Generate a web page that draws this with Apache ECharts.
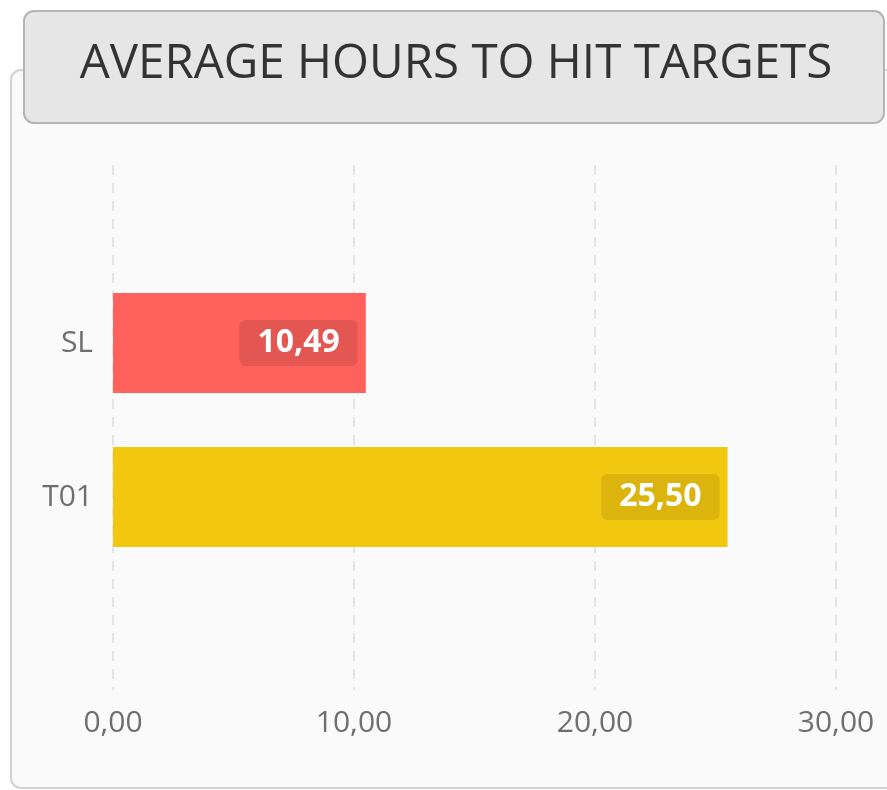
<!DOCTYPE html>
<html>
<head>
<meta charset="utf-8">
<script src="https://cdn.jsdelivr.net/npm/echarts@6/dist/echarts.min.js"></script>
<style>
  html, body { margin: 0; padding: 0; background: #ffffff; }
  #main { width: 887px; height: 790px; }
</style>
</head>
<body>
<div id="main"></div>
<script>
// chart data
var categories = ['SL', 'T01'];
var hours = [10.49, 25.50];
var barColors = ['#ff615c', '#f1c70f'];
var labelBoxColors = ['rgba(0,0,0,0.11)', 'rgba(0,0,0,0.09)'];
var axisTicks = [0, 10, 20, 30];

function fmt(v) {
  return Number(v).toFixed(2).replace('.', ',');
}

var myChart = echarts.init(document.getElementById('main'));

var barData = hours.map(function (v, i) {
  return {
    value: v,
    itemStyle: { color: barColors[i] },
    label: { backgroundColor: labelBoxColors[i] }
  };
});

var option = {
  animation: false,
  backgroundColor: '#ffffff',
  title: {
    text: 'AVERAGE HOURS TO HIT TARGETS',
    left: 451,
    top: 35,
    textAlign: 'center',
    textStyle: {
      fontFamily: 'Open Sans',
      fontWeight: 'normal',
      fontSize: 47.5,
      color: '#333333'
    }
  },
  graphic: [
    {
      type: 'rect',
      z: -10,
      shape: { x: 11, y: 70, width: 900, height: 718, r: 10 },
      style: { fill: '#fafafa', stroke: '#d2d2d2', lineWidth: 2 }
    },
    {
      type: 'rect',
      z: -5,
      shape: { x: 24, y: 11, width: 860, height: 112, r: 10 },
      style: { fill: '#e6e6e6', stroke: '#b4b4b4', lineWidth: 2 }
    }
  ],
  grid: [
    // axis + split lines
    { left: 113, right: 51, top: 165, bottom: 100 },
    // bars
    { left: 113, right: 51, top: 266, bottom: 216 }
  ],
  xAxis: [
    {
      gridIndex: 0,
      type: 'value',
      min: axisTicks[0],
      max: axisTicks[axisTicks.length - 1],
      interval: axisTicks[1] - axisTicks[0],
      axisLine: { show: false },
      axisTick: { show: false },
      splitLine: { lineStyle: { color: '#e4e4e4', width: 2, type: [10, 8] } },
      axisLabel: {
        formatter: fmt,
        margin: 18,
        fontFamily: 'Open Sans',
        fontSize: 30,
        color: '#6e6e6e'
      }
    },
    {
      gridIndex: 1,
      type: 'value',
      min: axisTicks[0],
      max: axisTicks[axisTicks.length - 1],
      show: false
    }
  ],
  yAxis: [
    {
      gridIndex: 0,
      type: 'category',
      data: categories,
      show: false
    },
    {
      gridIndex: 1,
      type: 'category',
      data: categories,
      inverse: true,
      axisLine: { show: false },
      axisTick: { show: false },
      splitLine: { show: false },
      axisLabel: {
        margin: 20,
        fontFamily: 'Open Sans',
        fontSize: 30,
        color: '#6e6e6e'
      }
    }
  ],
  series: [
    {
      type: 'bar',
      xAxisIndex: 1,
      yAxisIndex: 1,
      barWidth: 100,
      data: barData,
      label: {
        show: true,
        position: 'insideRight',
        distance: 8,
        formatter: function (p) { return fmt(p.value); },
        fontFamily: 'Open Sans',
        fontWeight: 'bold',
        fontSize: 32,
        color: '#ffffff',
        padding: [7, 18, 7, 18],
        borderRadius: 6
      }
    }
  ]
};

myChart.setOption(option);
window.onresize = myChart.resize;
</script>
</body>
</html>
